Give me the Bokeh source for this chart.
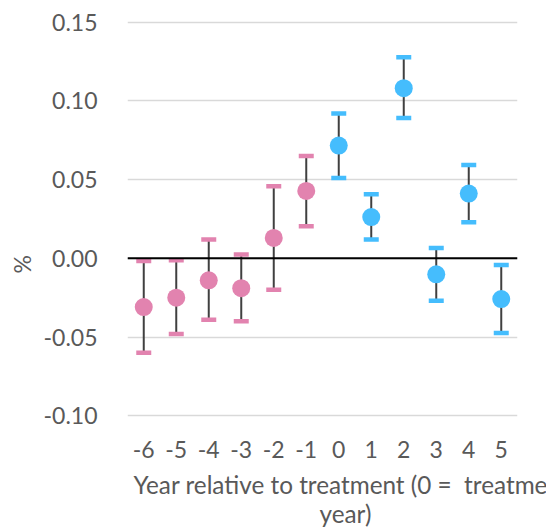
from bokeh.plotting import figure
from bokeh.models import (FactorRange, Range1d, FixedTicker, NumeralTickFormatter,
                          Span, Title, ColumnDataSource)
from bokeh.embed import file_html
from bokeh.resources import INLINE

years = ["-6", "-5", "-4", "-3", "-2", "-1", "0", "1", "2", "3", "4", "5"]
estimate = [-0.031, -0.025, -0.014, -0.019, 0.0129, 0.0428, 0.0716, 0.0262, 0.108, -0.0102, 0.0411, -0.0259]
upper = [-0.0017, -0.0013, 0.012, 0.0024, 0.0457, 0.065, 0.092, 0.0407, 0.1277, 0.0065, 0.0593, -0.0043]
lower = [-0.060, -0.048, -0.039, -0.040, -0.020, 0.0203, 0.051, 0.0119, 0.0891, -0.027, 0.0229, -0.0475]
period = ["pre", "pre", "pre", "pre", "pre", "pre", "post", "post", "post", "post", "post", "post"]
y_ticks = [-0.10, -0.05, 0.00, 0.05, 0.10, 0.15]

PINK = "#E283AF"
BLUE = "#45BDFD"
TEXT = "#595959"
FONT = "Lato"

colors = [PINK if s == "pre" else BLUE for s in period]
src = ColumnDataSource(dict(x=years, y=estimate, up=upper, lo=lower, c=colors))

p = figure(frame_width=390, frame_height=409, x_range=FactorRange(*years),
           y_range=Range1d(-0.1049, 0.1548), output_backend="svg",
           toolbar_location=None, min_border_left=125, min_border_right=31,
           min_border_top=14, min_border_bottom=0)

p.outline_line_color = None
p.background_fill_color = "white"
p.border_fill_color = "white"

p.xgrid.grid_line_color = None
p.ygrid.grid_line_color = "#d9d9d9"
p.ygrid.grid_line_width = 1.5

p.yaxis.ticker = FixedTicker(ticks=y_ticks)
p.yaxis.formatter = NumeralTickFormatter(format="0.00")
for ax in (p.xaxis, p.yaxis):
    ax.axis_line_color = None
    ax.major_tick_line_color = None
    ax.minor_tick_line_color = None
    ax.major_label_text_font = FONT
    ax.major_label_text_font_size = "23px"
    ax.major_label_text_color = TEXT
p.yaxis.major_label_standoff = 24
p.xaxis.major_label_standoff = 11

p.add_layout(Span(location=0, dimension="width", line_color="black", line_width=2))

p.segment(x0="x", y0="lo", x1="x", y1="up", source=src, line_color="#404040", line_width=2)
p.rect(x="x", y="up", width=15, height=4.5, width_units="screen", height_units="screen",
       source=src, fill_color="c", line_color=None)
p.rect(x="x", y="lo", width=15, height=4.5, width_units="screen", height_units="screen",
       source=src, fill_color="c", line_color=None)
p.scatter(x="x", y="y", size=18, source=src, fill_color="c", line_color=None)

t1 = Title(text="Year relative to treatment (0 =\u00a0 treatment", align="left", offset=6,
           text_font=FONT, text_font_size="24.3px", text_font_style="normal", text_color=TEXT,
           standoff=14)
t2 = Title(text="year)", align="left", offset=192,
           text_font=FONT, text_font_size="24.3px", text_font_style="normal", text_color=TEXT,
           standoff=-18)
pad = Title(text=" ", align="left", text_font=FONT, text_font_size="4px",
            text_font_style="normal", text_color=TEXT, standoff=4)
p.add_layout(t1, "below")
p.add_layout(t2, "below")
p.add_layout(pad, "below")

ty = Title(text="%", align="left", offset=150,
           text_font=FONT, text_font_size="23px", text_font_style="normal", text_color=TEXT)
p.add_layout(ty, "left")

open("out.html", "w").write(file_html(p, INLINE))
